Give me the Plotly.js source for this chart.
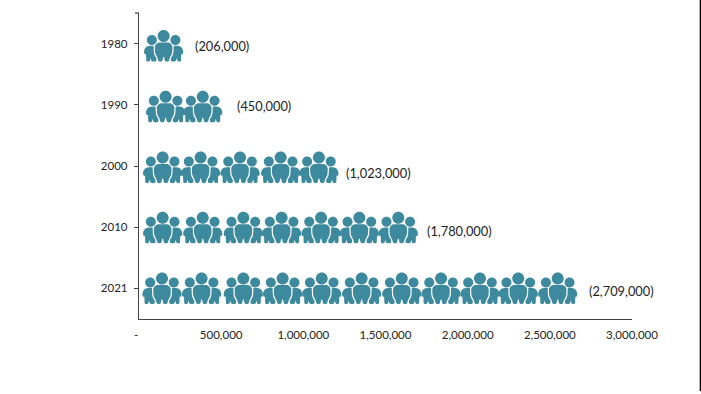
<!DOCTYPE html>
<html>
<head>
<meta charset="utf-8">
<script src="https://cdn.plot.ly/plotly-3.0.1.min.js"></script>
<style>html,body{margin:0;padding:0;background:#fff}#chart{width:701px;height:394px}</style>
</head>
<body>
<div id="chart"></div>
<script>
// ---- Data ----
const years = ['1980', '1990', '2000', '2010', '2021'];
const population = [206000, 450000, 1023000, 1780000, 2709000];
const labels = ['(206,000)', '(450,000)', '(1,023,000)', '(1,780,000)', '(2,709,000)'];
const xTickVals = [0, 500000, 1000000, 1500000, 2000000, 2500000, 3000000];
const xTickText = ['-\u00A0\u00A0', '500,000', '1,000,000', '1,500,000', '2,000,000', '2,500,000', '3,000,000'];

// Where each pictogram person group sits along the axis, by row
const icons1980 = [150000];
const icons1990 = [162000, 388000];
const icons2000 = [144000, 375000, 615000, 862000, 1095000];
const icons2010 = [144000, 388000, 635000, 868000, 1108000, 1341000, 1578000];
const icons2021 = [140000, 381000, 635000, 874000, 1112000, 1355000, 1599000, 1838000, 2075000, 2308000, 2548000];

// ---- Styling ----
const TEAL = '#3d899d';
const AXIS = '#444444';
const TEXT = '#222222';
const FONT = 'Lato, "Open Sans", sans-serif';
const iconRows = [icons1980, icons1990, icons2000, icons2010, icons2021];
const rowHeadShift = [7.6, 8, 8.4, 9.5, 10];     // px of centre head above the row's tick
const labelShiftX = [20, 22, 37, -7, 3];
const labelShiftY = [-2.4, -1.5, -7, -4, -3];

function circle(cx, cy, r) {
  const k = 0.5523 * r;
  return `M${cx - r},${cy} C${cx - r},${cy + k} ${cx - k},${cy + r} ${cx},${cy + r} ` +
         `C${cx + k},${cy + r} ${cx + r},${cy + k} ${cx + r},${cy} ` +
         `C${cx + r},${cy - k} ${cx + k},${cy - r} ${cx},${cy - r} ` +
         `C${cx - k},${cy - r} ${cx - r},${cy - k} ${cx - r},${cy} Z `;
}
function side(s, dy) {
  const p = (x, y) => `${s * x},${y + dy}`;
  return circle(s * 11.8, -4 + dy, 5) +
    `M${p(10, -9.7)} L${p(14, -9.7)} C${p(17, -9.7)} ${p(19.6, -12.5)} ${p(19.6, -16)} ` +
    `C${p(19.6, -18.4)} ${p(18, -19)} ${p(17.6, -18)} L${p(17.4, -24.5)} ` +
    `C${p(17.2, -26)} ${p(14, -26)} ${p(13.7, -24.5)} L${p(13.1, -22)} L${p(12.4, -24.5)} ` +
    `C${p(12, -26)} ${p(7.6, -26)} ${p(7.2, -24.5)} L${p(7.3, -22)} ` +
    `C${p(8.4, -20.5)} ${p(9.6, -18.5)} ${p(9.8, -16)} L${p(10, -11)} Z `;
}
function groupIcon(dy) {
  const p = (x, y) => `${x},${y + dy}`;
  return circle(0, dy, 6) +
    `M${p(-3.5, -6.5)} L${p(3.5, -6.5)} C${p(6.5, -6.5)} ${p(8.8, -8.5)} ${p(8.8, -11.5)} L${p(8.6, -16)} ` +
    `C${p(8.1, -19)} ${p(6.7, -20.5)} ${p(6.1, -22)} L${p(5.4, -24.5)} C${p(5, -26)} ${p(1.5, -26)} ${p(1.2, -24.5)} ` +
    `L${p(0.4, -21)} L${p(-0.4, -21)} L${p(-1.2, -24.5)} C${p(-1.5, -26)} ${p(-5, -26)} ${p(-5.4, -24.5)} ` +
    `L${p(-6.1, -22)} C${p(-6.7, -20.5)} ${p(-8.1, -19)} ${p(-8.6, -16)} L${p(-8.8, -11.5)} C${p(-8.8, -8.5)} ${p(-6.5, -6.5)} ${p(-3.5, -6.5)} Z ` +
    side(1, dy) + side(-1, dy);
}

const shapes = [];
iconRows.forEach((row, r) => {
  row.forEach(v => {
    shapes.push({
      type: 'path', xref: 'x', yref: 'y',
      xsizemode: 'pixel', ysizemode: 'pixel',
      xanchor: v, yanchor: r,
      path: groupIcon(rowHeadShift[r]),
      fillcolor: TEAL, fillrule: 'nonzero',
      line: { width: 0 }
    });
  });
});
// small closing tick at the top of the value axis
shapes.push({ type: 'line', xref: 'paper', yref: 'paper', x0: -4 / 493, x1: 0, y0: 1, y1: 1,
  line: { color: AXIS, width: 1.3 } });
// thin black frame edge at the far right of the picture
shapes.push({ type: 'line', xref: 'paper', yref: 'paper', x0: 561.5 / 493, x1: 561.5 / 493,
  y0: -72 / 306, y1: 13 / 306 + 1, line: { color: '#000000', width: 1.6 } });

const annotations = years.map((y, i) => ({
  x: population[i], y: i, xref: 'x', yref: 'y',
  text: labels[i], showarrow: false, xanchor: 'left', yanchor: 'middle',
  xshift: labelShiftX[i], yshift: labelShiftY[i],
  font: { family: FONT, size: 12.8, color: TEXT }
}));

const traces = [{
  type: 'bar', orientation: 'h', x: population, y: years,
  marker: { color: 'rgba(0,0,0,0)' }, hoverinfo: 'x+y', showlegend: false
}];

const layout = {
  width: 701, height: 394,
  margin: { l: 139, r: 69, t: 13, b: 75, pad: 0 },
  paper_bgcolor: '#ffffff', plot_bgcolor: '#ffffff',
  showlegend: false,
  font: { family: FONT, size: 11.5, color: TEXT },
  xaxis: {
    range: [0, 3000000], tickmode: 'array', tickvals: xTickVals, ticktext: xTickText,
    showgrid: false, zeroline: false, showline: true, linecolor: AXIS, linewidth: 1.3,
    ticks: '', ticklabelstandoff: 5, tickangle: 0,
    tickfont: { family: FONT, size: 11.5, color: TEXT }
  },
  yaxis: {
    type: 'category', categoryorder: 'array', categoryarray: years,
    range: [4.5, -0.5], showgrid: false, zeroline: false,
    showline: true, linecolor: AXIS, linewidth: 1.3,
    ticks: 'outside', ticklen: 4, tickcolor: AXIS, tickwidth: 1.2,
    ticklabelstandoff: 4,
    tickfont: { family: FONT, size: 11.5, color: TEXT }
  },
  shapes: shapes,
  annotations: annotations
};

Plotly.newPlot('chart', traces, layout, { displayModeBar: false, responsive: false });
</script>
</body>
</html>
